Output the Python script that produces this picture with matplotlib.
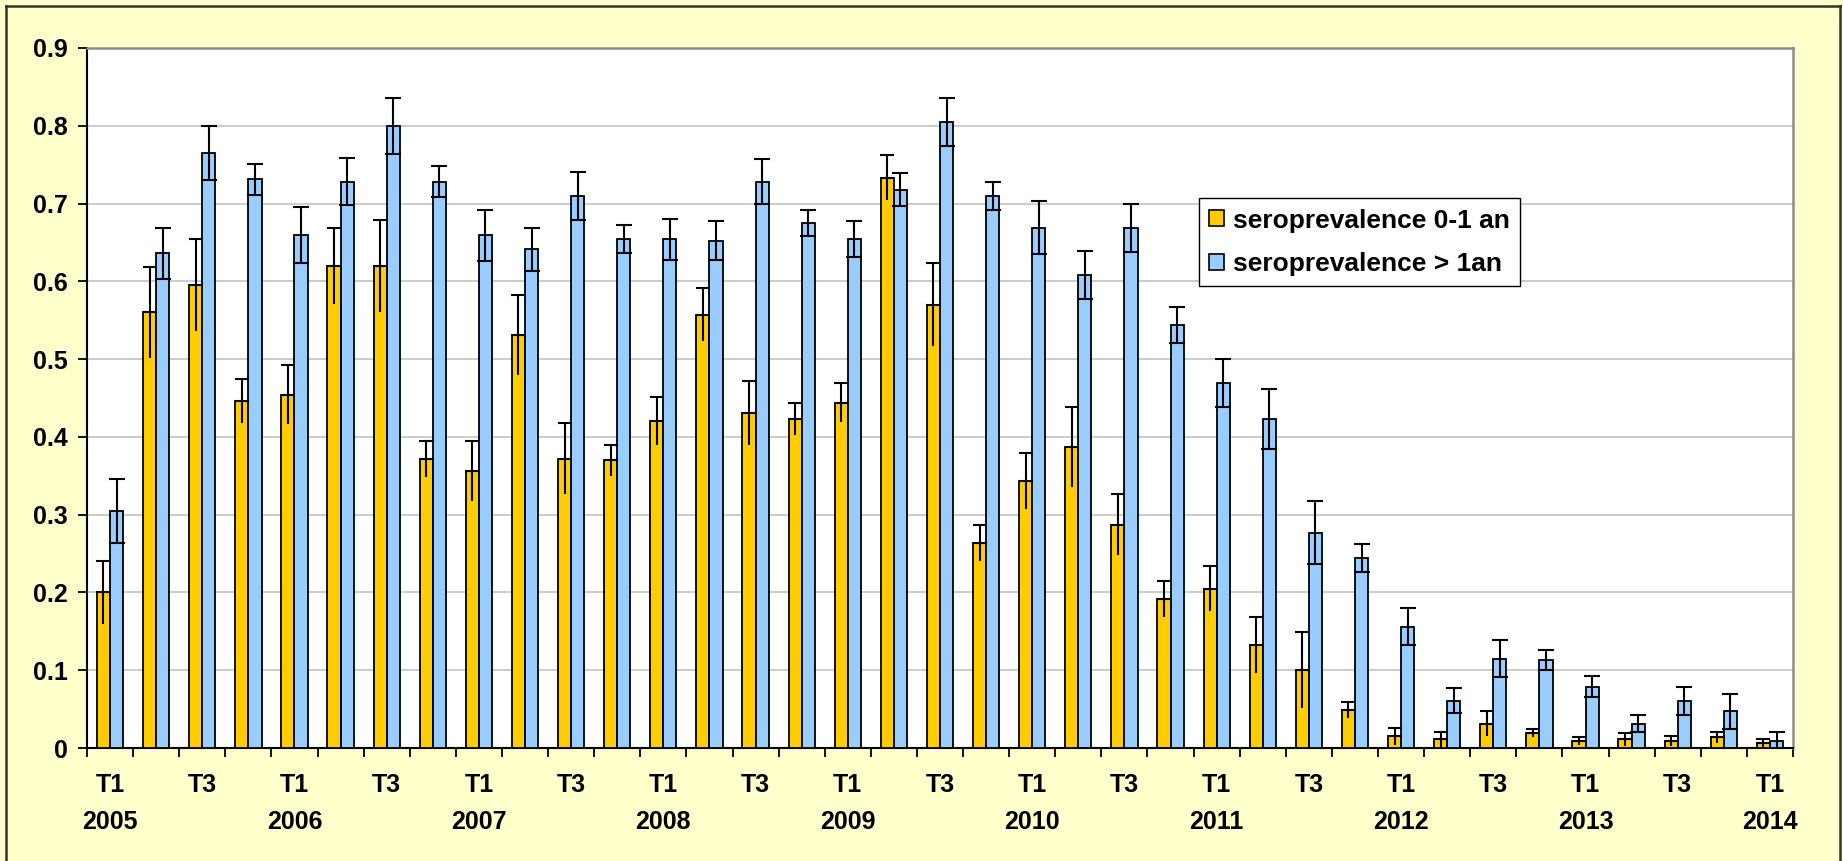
import matplotlib
matplotlib.use("Agg")
import matplotlib.pyplot as plt
import numpy as np
from matplotlib.patches import Patch
from matplotlib.lines import Line2D

# Quarterly seroprevalence, 2005 T1 .. 2014 T1
quarter_labels = [
    "T1\n2005", "", "T3", "",
    "T1\n2006", "", "T3", "",
    "T1\n2007", "", "T3", "",
    "T1\n2008", "", "T3", "",
    "T1\n2009", "", "T3", "",
    "T1\n2010", "", "T3", "",
    "T1\n2011", "", "T3", "",
    "T1\n2012", "", "T3", "",
    "T1\n2013", "", "T3", "",
    "T1\n2014",
]

sero_0_1 = [
    0.200, 0.560, 0.595, 0.446, 0.454, 0.620, 0.620, 0.372, 0.356, 0.531,
    0.372, 0.370, 0.420, 0.557, 0.431, 0.423, 0.444, 0.733, 0.570, 0.264,
    0.343, 0.387, 0.287, 0.192, 0.205, 0.133, 0.100, 0.049, 0.015, 0.011,
    0.031, 0.019, 0.009, 0.011, 0.009, 0.014, 0.006,
]
err_0_1 = [
    0.040, 0.058, 0.059, 0.028, 0.038, 0.049, 0.059, 0.023, 0.039, 0.051,
    0.046, 0.020, 0.031, 0.034, 0.041, 0.020, 0.025, 0.029, 0.053, 0.023,
    0.036, 0.051, 0.039, 0.023, 0.029, 0.036, 0.049, 0.010, 0.011, 0.010,
    0.016, 0.005, 0.005, 0.008, 0.007, 0.007, 0.005,
]

sero_gt1 = [
    0.305, 0.636, 0.765, 0.731, 0.659, 0.728, 0.800, 0.728, 0.659, 0.641,
    0.710, 0.654, 0.654, 0.652, 0.728, 0.675, 0.654, 0.718, 0.805, 0.710,
    0.669, 0.608, 0.669, 0.544, 0.469, 0.423, 0.277, 0.244, 0.156, 0.061,
    0.115, 0.113, 0.079, 0.031, 0.060, 0.047, 0.009,
]
err_gt1 = [
    0.041, 0.033, 0.035, 0.020, 0.036, 0.030, 0.036, 0.020, 0.033, 0.028,
    0.031, 0.018, 0.026, 0.025, 0.029, 0.017, 0.023, 0.021, 0.031, 0.018,
    0.034, 0.031, 0.031, 0.023, 0.031, 0.038, 0.041, 0.018, 0.024, 0.016,
    0.024, 0.013, 0.013, 0.011, 0.018, 0.023, 0.012,
]

series_names = ["seroprevalence 0-1 an", "seroprevalence > 1an"]
yellow = "#FFCC00"
blue = "#99CCFF"
bg = "#FFFFCC"

W, H = 1843, 861
plt.rcParams["font.family"] = ["Liberation Sans", "DejaVu Sans"]
plt.rcParams["font.weight"] = "bold"

fig = plt.figure(figsize=(W / 100, H / 100), dpi=100, facecolor=bg)
ax = fig.add_axes([87 / W, 1 - 748 / H, (1793 - 87) / W, (748 - 48) / H])
ax.set_facecolor("white")

n = len(quarter_labels)
x = np.arange(n)
bw = 0.285

ax.bar(x - bw / 2, sero_0_1, bw, color=yellow, edgecolor="black",
       linewidth=1.3, zorder=3)
ax.bar(x + bw / 2, sero_gt1, bw, color=blue, edgecolor="black",
       linewidth=1.3, zorder=3)

eb_kw = dict(fmt="none", ecolor="black", elinewidth=1.5, zorder=4)
z = np.zeros(n)
# 0-1 an: capped upper whisker, plain lower whisker
ax.errorbar(x - bw / 2, sero_0_1, yerr=[z, err_0_1], capsize=4.8,
            capthick=1.5, **eb_kw)
ax.errorbar(x - bw / 2, sero_0_1, yerr=[err_0_1, z], capsize=0, **eb_kw)
# > 1an: capped on both ends
ax.errorbar(x + bw / 2, sero_gt1, yerr=err_gt1, capsize=5.8,
            capthick=1.5, **eb_kw)

ax.set_xlim(-0.5, n - 0.5)
ax.set_ylim(0, 0.9)
ax.set_yticks(np.arange(0, 0.91, 0.1))
ax.set_yticklabels(["0", "0.1", "0.2", "0.3", "0.4", "0.5", "0.6", "0.7",
                    "0.8", "0.9"])
ax.yaxis.grid(True, color="#C8C8C8", linewidth=1.3, zorder=0)
ax.set_axisbelow(True)

# category boundaries carry the tick marks, centres carry the labels
ax.set_xticks(np.arange(-0.5, n, 1.0))
ax.set_xticklabels([])
ax.set_xticks(x, minor=True)
ax.set_xticklabels(quarter_labels, minor=True)
ax.tick_params(axis="x", which="major", direction="out", length=6.5,
               width=1.3, color="black")
ax.tick_params(axis="x", which="minor", length=0, pad=18, labelsize=18)
ax.tick_params(axis="y", direction="out", length=6.5, width=1.3,
               color="black", labelsize=18, pad=7)
for lab in ax.get_xticklabels(minor=True):
    lab.set_linespacing(1.7)
    lab.set_fontweight("bold")
    lab.set_verticalalignment("top")
for lab in ax.get_yticklabels():
    lab.set_fontweight("bold")

ax.spines["left"].set_color("black")
ax.spines["bottom"].set_color("black")
ax.spines["left"].set_linewidth(1.5)
ax.spines["bottom"].set_linewidth(1.5)
for s in ("top", "right"):
    ax.spines[s].set_color("#8C8C8C")
    ax.spines[s].set_linewidth(1.8)

handles = [Patch(facecolor=yellow, edgecolor="black", linewidth=1.2),
           Patch(facecolor=blue, edgecolor="black", linewidth=1.2)]
leg = ax.legend(handles, series_names, loc="upper left",
                bbox_to_anchor=(0.6516, 0.785), frameon=True, fancybox=False,
                edgecolor="black", framealpha=1, borderpad=0.38,
                handlelength=0.57, handleheight=0.57, handletextpad=0.34,
                labelspacing=0.75, borderaxespad=0,
                prop={"size": 19, "weight": "bold"})
leg.get_frame().set_linewidth(1.0)
leg.set_zorder(6)

# outer frame of the chart area
frame_kw = dict(color="#333333", linewidth=1.8, transform=fig.transFigure)
fig.add_artist(Line2D([6 / W, 6 / W], [0, 1 - 6 / H], **frame_kw))
fig.add_artist(Line2D([6 / W, 1840 / W], [1 - 6 / H, 1 - 6 / H], **frame_kw))
fig.add_artist(Line2D([1840 / W, 1840 / W], [0, 1 - 6 / H], **frame_kw))

fig.savefig("out.png", dpi=100, facecolor=bg)
